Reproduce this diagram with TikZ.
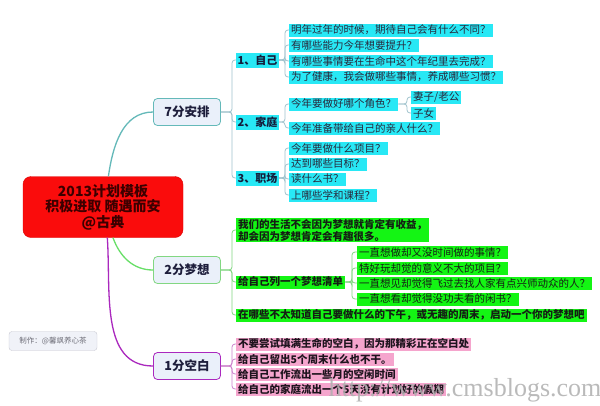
\documentclass[tikz,border=0pt]{standalone}
\usepackage{fontspec}
\newfontfamily\cjk{Noto Sans CJK SC}
\newfontfamily\wmfont{Liberation Serif}
\definecolor{cyanc}{RGB}{40,232,245}
\definecolor{greenc}{RGB}{20,245,20}
\definecolor{pinkc}{RGB}{245,165,205}
\definecolor{redc}{RGB}{250,12,12}
\definecolor{tealc}{RGB}{100,185,185}
\definecolor{tealb}{RGB}{160,195,205}
\definecolor{greenl}{RGB}{130,215,130}
\definecolor{purpl}{RGB}{170,40,190}
\definecolor{pinkl}{RGB}{205,130,205}
\definecolor{lvfill}{RGB}{234,240,250}
\definecolor{txtc}{RGB}{40,40,60}
\begin{document}
\begin{tikzpicture}[x=1pt,y=-1pt,
  root/.style={fill=redc, draw={rgb,255:red,220;green,0;blue,0}, rounded corners=8pt,
    minimum width=160pt, minimum height=61pt, align=center, text={rgb,255:red,60;green,0;blue,0},
    font=\cjk\bfseries\fontsize{14}{15.5}\selectfont},
  lvone/.style={fill=lvfill, line width=0.8pt, rounded corners=4pt, minimum width=67pt,
    minimum height=27pt, text={rgb,255:red,30;green,30;blue,60}, font=\cjk\bfseries\fontsize{12.5}{14}\selectfont},
  lvtwo/.style={fill=cyanc, anchor=west, inner xsep=1.5pt, inner ysep=1pt, minimum height=15pt,
    text={rgb,255:red,20;green,30;blue,60}, font=\cjk\bfseries\fontsize{11}{13}\selectfont},
  leaf/.style={fill=cyanc, anchor=west, inner xsep=2pt, inner ysep=0.5pt, minimum height=13pt,
    text=txtc, font=\cjk\fontsize{10.5}{12}\selectfont},
  gleaf/.style={leaf, fill=greenc, text={rgb,255:red,20;green,30;blue,20}, font=\cjk\bfseries\fontsize{10.5}{12}\selectfont},
  pleaf/.style={leaf, fill=pinkc, text={rgb,255:red,30;green,20;blue,30}, font=\cjk\bfseries\fontsize{10.5}{12}\selectfont},
  credit/.style={fill={rgb,255:red,240;green,242;blue,248}, draw={rgb,255:red,200;green,200;blue,210},
    rounded corners=3pt, minimum width=88pt, minimum height=19pt, text={rgb,255:red,110;green,110;blue,120},
    font=\cjk\fontsize{7.5}{9}\selectfont},
  tb/.style={draw=tealb, line width=0.8pt, rounded corners=3pt},
  gb/.style={draw=greenl, line width=0.8pt, rounded corners=3pt},
  pb/.style={draw=pinkl, line width=0.8pt, rounded corners=3pt},
  wm/.style={text={rgb,255:red,175;green,175;blue,175}, opacity=0.85, inner sep=0pt, font=\wmfont\fontsize{26}{26}\selectfont}
]
\useasboundingbox (0,0) rectangle (600,405);
\fill[white] (0,0) rectangle (600,405);

% main nodes
\node[root] (root) at (103,207) {2013计划模板\\积极进取 随遇而安\\@古典};
\node[lvone, draw=tealc] (a) at (187,112) {7分安排};
\node[lvone, draw=greenl] (b) at (187,270) {2分梦想};
\node[lvone, draw=purpl] (c) at (187,366) {1分空白};
\node[credit] (credit) at (53,341) {制作：@馨飒养心茶};

% main curves
\draw[tealc, line width=1.3pt] (root.80) to[out=82,in=180] (a.west);
\draw[greenl!80!green, line width=1.3pt] (root.-72) to[out=-70,in=180] (b.west);
\draw[purpl, line width=1.3pt] (root.-82) to[out=-86,in=180] (c.west);

% 7分安排 subtree
\node[lvtwo] (a1) at (236,60) {1、自己};
\node[lvtwo] (a2) at (236,122) {2、家庭};
\node[lvtwo] (a3) at (236,178) {3、职场};
\coordinate (ba) at (232,112);
\foreach \n in {a1,a2,a3} \draw[tb] (a.east) -- (ba) |- (\n.west);

\node[leaf] (a11) at (289,30) {明年过年的时候，期待自己会有什么不同？};
\node[leaf] (a12) at (289,45) {有哪些能力今年想要提升？};
\node[leaf] (a13) at (289,61) {有哪些事情要在生命中这个年纪里去完成？};
\node[leaf] (a14) at (289,77) {为了健康，我会做哪些事情，养成哪些习惯？};
\coordinate (ba1) at (285,60);
\foreach \n in {a11,a12,a13,a14} \draw[tb] (a1.east) -- (ba1) |- (\n.west);

\node[leaf] (a21) at (289,104) {今年要做好哪个角色？};
\node[leaf] (a22) at (289,128) {今年准备带给自己的亲人什么？};
\coordinate (ba2) at (285,122);
\foreach \n in {a21,a22} \draw[tb] (a2.east) -- (ba2) |- (\n.west);

\node[leaf] (a211) at (411,97) {妻子/老公};
\node[leaf] (a212) at (411,113) {子女};
\coordinate (ba21) at (407,104);
\foreach \n in {a211,a212} \draw[tb] (a21.east) -- (ba21) |- (\n.west);

\node[leaf] (a31) at (289,148) {今年要做什么项目？};
\node[leaf] (a32) at (289,164) {达到哪些目标？};
\node[leaf] (a33) at (289,179) {读什么书？};
\node[leaf] (a34) at (289,195) {上哪些学和课程？};
\coordinate (ba3) at (285,178);
\foreach \n in {a31,a32,a33,a34} \draw[tb] (a3.east) -- (ba3) |- (\n.west);

% 2分梦想 subtree
\node[gleaf, align=left] (b1) at (236,230) {我们的生活不会因为梦想就肯定有收益，\\却会因为梦想肯定会有趣很多。};
\node[gleaf] (b2) at (236,282) {给自己列一个梦想清单};
\node[gleaf] (b3) at (236,315) {在哪些不太知道自己要做什么的下午，或无趣的周末，启动一个你的梦想吧};
\coordinate (bb) at (232,270);
\foreach \n in {b1,b2,b3} \draw[gb] (b.east) -- (bb) |- (\n.west);

\node[gleaf, font=\cjk\fontsize{10.5}{12}\selectfont] (b21) at (357,252) {一直想做却又没时间做的事情？};
\node[gleaf, font=\cjk\fontsize{10.5}{12}\selectfont] (b22) at (357,268) {特好玩却觉的意义不大的项目？};
\node[gleaf, font=\cjk\fontsize{10.5}{12}\selectfont] (b23) at (357,283) {一直想见却觉得飞过去找人家有点兴师动众的人？};
\node[gleaf, font=\cjk\fontsize{10.5}{12}\selectfont] (b24) at (357,299) {一直想看却觉得没功夫看的闲书？};
\coordinate (bb2) at (352,282);
\foreach \n in {b21,b22,b23,b24} \draw[gb] (b2.east) -- (bb2) |- (\n.west);

% 1分空白 subtree
\node[pleaf] (c1) at (236,344) {不要尝试填满生命的空白，因为那精彩正在空白处};
\node[pleaf] (c2) at (236,359) {给自己留出5个周末什么也不干。};
\node[pleaf] (c3) at (236,374) {给自己工作流出一些月的空闲时间};
\node[pleaf] (c4) at (236,389) {给自己的家庭流出一个5天没有计划好的假期};
\coordinate (bc) at (232,366);
\foreach \n in {c1,c2,c3,c4} \draw[pb] (c.east) -- (bc) |- (\n.west);

% watermark
\node[wm] (wm) at (465,390) {http://www.cmsblogs.com};
\end{tikzpicture}
\end{document}
